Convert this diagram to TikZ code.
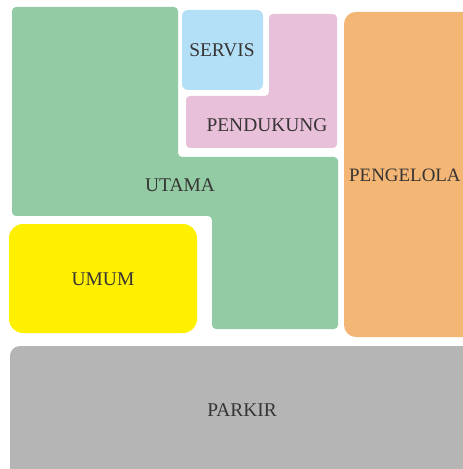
\documentclass[tikz,border=0pt]{standalone}
\usepackage{fontspec}
\setmainfont{Liberation Serif}
\definecolor{cgreen}{RGB}{146,203,164}
\definecolor{cblue}{RGB}{179,224,247}
\definecolor{cpink}{RGB}{232,192,218}
\definecolor{corange}{RGB}{244,182,117}
\definecolor{cyellow}{RGB}{255,240,0}
\definecolor{cgray}{RGB}{181,181,181}
\definecolor{ctext}{RGB}{55,52,52}
\begin{document}
\begin{tikzpicture}[x=1bp,y=-1bp,
  lbl/.style={text=ctext,font=\fontsize{19.5}{21}\selectfont,inner sep=0pt}]
\useasboundingbox (0,0) rectangle (463,469);
\clip (0,0) rectangle (463,469);
% UTAMA (green L-shape)
\fill[cgreen,rounded corners=4] (12,7) -- (178,7) -- (178,157) -- (338,157) -- (338,329) -- (212,329) -- (212,216) -- (12,216) -- cycle;
% SERVIS
\fill[cblue,rounded corners=6] (182,10) rectangle (263,90);
% PENDUKUNG
\fill[cpink,rounded corners=4] (269,14) -- (337,14) -- (337,148) -- (186,148) -- (186,96) -- (269,96) -- cycle;
% PENGELOLA
\fill[corange,rounded corners=12] (344,12) rectangle (480,337);
% UMUM
\fill[cyellow,rounded corners=14] (9,224) rectangle (197,333);
% PARKIR
\fill[cgray,rounded corners=10] (10,346) rectangle (480,490);
% labels
\node[lbl] (servis) at (222,50) {SERVIS};
\node[lbl] (pendukung) at (267,125) {PENDUKUNG};
\node[lbl] (utama) at (180,185) {UTAMA};
\node[lbl,anchor=west,font=\fontsize{19}{21}\selectfont] (pengelola) at (349,175) {PENGELOLA};
\node[lbl] (umum) at (103,279) {UMUM};
\node[lbl] (parkir) at (242,410) {PARKIR};
\end{tikzpicture}
\end{document}
